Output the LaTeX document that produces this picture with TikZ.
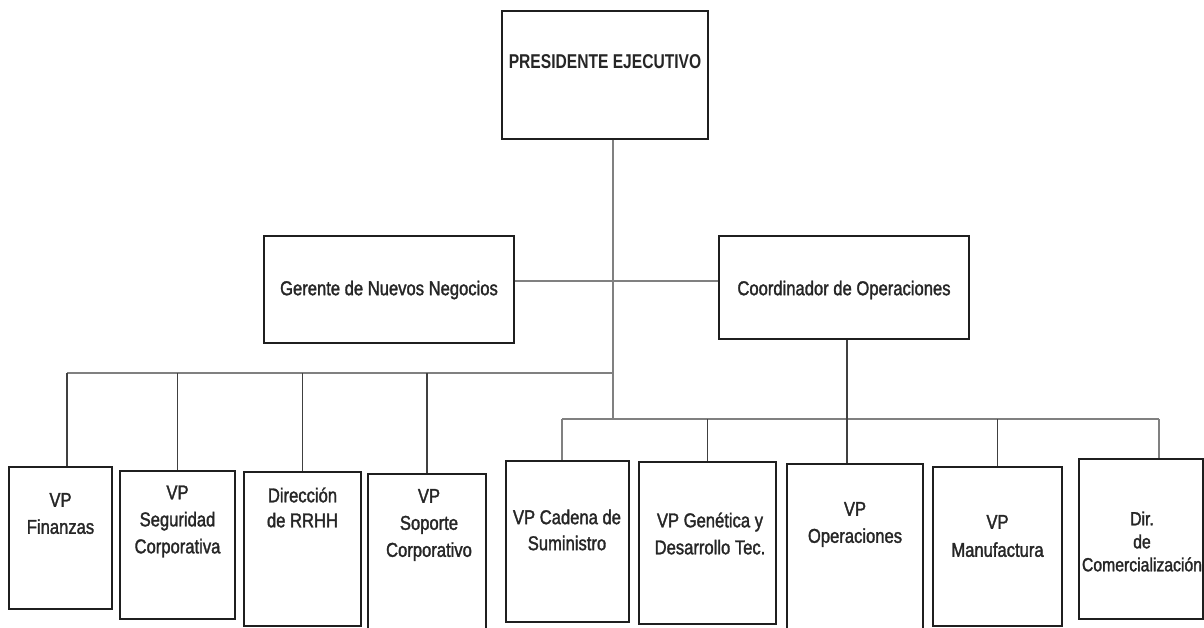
\documentclass[tikz,border=0pt]{standalone}
\usepackage{fontspec}
\setmainfont{Liberation Sans}[FakeStretch=0.83, FakeBold=1.6]
\newfontfamily\titlefont{Liberation Sans}[FakeStretch=0.78]
\begin{document}
\begin{tikzpicture}[x=1pt,y=-1pt,
  box/.style={draw=black!88, line width=1.8pt, fill=white, inner sep=0pt},
  lbl/.style={align=center, font=\fontsize{20}{27}\selectfont, inner sep=0pt, text=black!85},
  gline/.style={draw=black!50, line width=1.6pt},
  dline/.style={draw=black!75, line width=1.6pt}]
\clip (0,0) rectangle (1204,628);
\fill[white] (0,0) rectangle (1204,628);

% boxes
\node[box, minimum width=206pt, minimum height=128pt] (pres) at (605,75) {};
\node[box, minimum width=250pt, minimum height=107pt] (ger) at (389,289.5) {};
\node[box, minimum width=250pt, minimum height=103pt] (coord) at (844,287.5) {};
\node[box, minimum width=103pt, minimum height=142pt] (fin) at (60.5,538) {};
\node[box, minimum width=115pt, minimum height=148pt] (seg) at (177.5,545) {};
\node[box, minimum width=117pt, minimum height=154pt] (rrhh) at (302.5,549) {};
\node[box, minimum width=118pt, minimum height=166pt] (sop) at (427,557) {};
\node[box, minimum width=123pt, minimum height=161pt] (cad) at (567.5,541.5) {};
\node[box, minimum width=137pt, minimum height=162pt] (gen) at (707.5,543) {};
\node[box, minimum width=136pt, minimum height=176pt] (ope) at (855,552) {};
\node[box, minimum width=129pt, minimum height=159pt] (man) at (997.5,546.5) {};
\node[box, minimum width=124pt, minimum height=160pt] (com) at (1141,539) {};

% texts
\node[lbl, font=\titlefont\bfseries\fontsize{20}{22}\selectfont] (pres-t) at (605,62) {PRESIDENTE EJECUTIVO};
\node[lbl] (ger-t) at (389,290) {Gerente de Nuevos Negocios};
\node[lbl] (coord-t) at (844,290) {Coordinador de Operaciones};
\node[lbl] (fin-t) at (60.5,513.5) {VP\\Finanzas};
\node[lbl] (seg-t) at (177.5,521.5) {VP\\Seguridad\\Corporativa};
\node[lbl, font=\fontsize{20}{25}\selectfont] (rrhh-t) at (302.5,507.5) {Dirección\\de RRHH};
\node[lbl] (sop-t) at (429,525) {VP\\Soporte\\Corporativo};
\node[lbl, font=\fontsize{20}{26}\selectfont] (cad-t) at (567,530) {VP Cadena de\\Suministro};
\node[lbl] (gen-t) at (710,533.5) {VP Genética y\\Desarrollo Tec.};
\node[lbl] (ope-t) at (855,524.5) {VP\\Operaciones};
\node[lbl, font=\fontsize{20}{28}\selectfont] (man-t) at (997.5,536) {VP\\Manufactura};
\node[lbl, font=\fontsize{19}{23}\selectfont] (com-t) at (1142,541.5) {Dir.\\de\\Comercialización};

% junction coordinates
\coordinate (jL) at (613,373);
\coordinate (jR) at (613,419);
\coordinate (jM) at (613,281);
\coordinate (busL) at (67,373);
\coordinate (busR0) at (562,419);
\coordinate (busR1) at (1159,419);
\coordinate (cv) at (847,419);

% connectors
\draw[gline] (pres.south -| jL) -- (jR);
\draw[gline] (ger.east |- jM) -- (coord.west |- jM);
\draw[gline] (busL) -- (jL);
\draw[dline] (busL) -- (busL |- fin.north);
\draw[dline] (seg.north |- busL) -- (seg.north);
\draw[dline] (rrhh.north |- busL) -- (rrhh.north);
\draw[dline] (sop.north |- busL) -- (sop.north);
\draw[gline] (busR0) -- (busR1);
\draw[gline] (busR0) -- (busR0 |- cad.north);
\draw[dline] (gen.north |- busR0) -- (gen.north);
\draw[dline] (coord.south -| cv) -- (ope.north -| cv);
\draw[dline] (man.north |- busR0) -- (man.north);
\draw[gline] (busR1) -- (busR1 |- com.north);
\end{tikzpicture}
\end{document}
